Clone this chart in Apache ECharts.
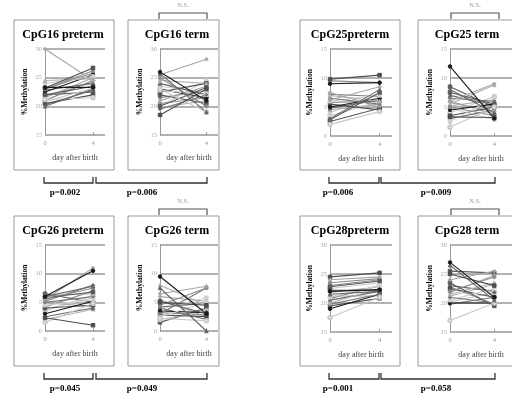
<!DOCTYPE html>
<html>
<head>
<meta charset="utf-8">
<script src="https://cdn.jsdelivr.net/npm/echarts@6/dist/echarts.min.js"></script>
<style>
  html, body { margin: 0; padding: 0; background: #fff; }
  #chart { width: 512px; height: 396px; }
</style>
</head>
<body>
<div id="chart"></div>
<script>
// panel names, left to right, top row then bottom row
const panelTitles = ['CpG16 preterm', 'CpG16 term', 'CpG25preterm', 'CpG25 term',
  'CpG26 preterm', 'CpG26 term', 'CpG28preterm', 'CpG28 term'];
const yRanges = [[15, 30], [15, 30], [0, 15], [0, 15], [0, 15], [0, 15], [15, 30], [15, 30]];
const days = [0, 4];
const yAxisName = '%Methylation';
const xAxisName = 'day after birth';

// each row: [% methylation at day 0, % methylation at day 4]
const cpg16Preterm = [[23.3, 23.3], [23.2, 26.7], [20.0, 23.0], [30.0, 24.5], [21.2, 21.5], [22.0, 23.5], [23.0, 26.2],
  [24.5, 24.8], [21.0, 24.5], [24.0, 25.2], [22.5, 25.5], [20.5, 22.0], [22.8, 24.0], [21.5, 25.0], [20.8, 23.2],
  [22.0, 22.5], [23.0, 25.8], [21.8, 24.2], [20.3, 22.8]];
const cpg16Term = [[26.0, 21.0], [18.5, 23.0], [25.7, 19.0], [25.5, 28.2], [23.0, 19.0], [20.0, 23.3], [25.0, 20.0],
  [24.5, 24.0], [19.5, 22.0], [22.8, 22.0], [23.0, 21.5], [22.5, 24.0], [24.0, 22.0], [21.0, 23.5], [23.5, 22.5],
  [22.0, 20.5], [20.5, 21.5], [19.8, 21.0], [21.5, 22.8], [20.0, 24.5]];
const cpg25Preterm = [[9.0, 9.2], [9.8, 10.5], [3.0, 8.0], [6.2, 8.5], [2.0, 4.2], [2.8, 7.5], [9.5, 9.2],
  [7.0, 6.0], [6.5, 5.5], [6.0, 7.0], [5.0, 6.5], [5.5, 4.5], [4.8, 6.2], [7.5, 5.0], [3.5, 6.0],
  [2.5, 4.8], [5.8, 6.0], [4.5, 5.5], [7.2, 6.8], [4.0, 7.2]];
const cpg25Term = [[12.0, 3.0], [3.3, 3.2], [8.0, 4.0], [6.0, 9.0], [1.5, 5.0], [7.5, 5.5], [5.0, 3.5],
  [5.5, 8.8], [6.5, 6.0], [2.5, 6.5], [4.5, 5.5], [3.5, 5.0], [7.0, 5.2], [5.8, 4.2], [4.0, 6.8],
  [8.5, 5.0], [6.0, 3.8], [5.2, 6.2], [3.0, 4.5], [4.8, 2.8]];
const cpg26Preterm = [[6.0, 10.5], [2.3, 1.0], [6.0, 7.8], [5.5, 11.0], [1.5, 4.8], [5.8, 6.8], [5.5, 7.5],
  [6.2, 6.5], [5.0, 6.0], [4.5, 5.5], [3.0, 5.2], [4.0, 4.5], [2.5, 4.0], [5.0, 4.2], [3.5, 6.2],
  [6.5, 5.0], [4.2, 7.0], [2.0, 3.8], [5.2, 8.0], [3.8, 5.8]];
const cpg26Term = [[9.5, 3.0], [5.0, 4.5], [7.5, 0.0], [6.5, 7.8], [2.2, 1.8], [5.2, 3.0], [4.5, 7.5],
  [8.0, 4.5], [3.0, 7.5], [2.5, 5.0], [3.5, 3.2], [2.8, 2.5], [4.0, 2.0], [6.0, 5.2], [2.0, 3.5],
  [1.5, 4.0], [3.2, 2.8], [5.5, 2.5], [4.2, 4.8], [3.8, 5.8]];
const cpg28Preterm = [[22.0, 22.3], [22.2, 22.2], [21.5, 22.0], [24.0, 24.5], [17.5, 21.0], [22.8, 23.8], [23.0, 24.0],
  [20.0, 22.5], [19.8, 21.5], [21.0, 23.0], [19.0, 21.5], [24.5, 25.2], [20.5, 22.0], [21.8, 22.8], [22.5, 23.5],
  [19.5, 20.8], [23.5, 24.2], [21.2, 21.2], [20.8, 23.0]];
const cpg28Term = [[27.0, 21.0], [25.0, 23.0], [26.5, 20.5], [24.0, 25.5], [17.0, 20.0], [23.5, 19.5], [22.0, 24.5],
  [21.5, 23.5], [21.0, 20.0], [20.5, 22.5], [20.0, 20.0], [22.5, 21.0], [23.0, 22.0], [21.8, 24.8], [20.2, 21.8],
  [25.5, 25.2], [22.8, 19.8], [21.2, 23.2], [19.8, 21.0]];

const panelData = [cpg16Preterm, cpg16Term, cpg25Preterm, cpg25Term, cpg26Preterm, cpg26Term, cpg28Preterm, cpg28Term];

// p-values under the brackets, left to right, top row then bottom row
const pValues = ['p=0.002', 'p=0.006', 'p=0.006', 'p=0.009', 'p=0.045', 'p=0.049', 'p=0.001', 'p=0.058'];
const nsLabel = 'N.S.';

// panel placement (pixels)
const panels = [
  {box: [14, 20, 100, 150], grid: [45, 49, 60, 86], xMax: 5, titleX: 63},
  {box: [128, 20, 91, 150], grid: [160, 49, 58, 86], xMax: 5, titleX: 177},
  {box: [300, 20, 100, 150], grid: [330, 49, 62, 87], xMax: 5, titleX: 350},
  {box: [418, 20, 110, 150], grid: [450, 49, 62, 87], xMax: 5.6, titleX: 467},
];
const rowOffset = 196;

const shades = ['#1a1a1a', '#4d4d4d', '#666666', '#a6a6a6', '#c8c8c8', '#595959', '#8c8c8c', '#b0b0b0', '#7a7a7a', '#d0d0d0'];
const symbols = ['circle', 'rect', 'triangle', 'diamond', 'emptyCircle', 'rect', 'circle', 'triangle', 'diamond', 'rect'];

const chart = echarts.init(document.getElementById('chart'), null, {renderer: 'canvas'});

const grids = [], xAxes = [], yAxes = [], series = [], graphics = [];

for (let p = 0; p < 8; p++) {
  const base = panels[p % 4];
  const dy = p < 4 ? 0 : rowOffset;
  const [gl, gt, gw, gh] = base.grid;
  grids.push({left: gl, top: gt + dy, width: gw, height: gh});

  xAxes.push({
    type: 'value', gridIndex: p, min: 0, max: base.xMax, interval: 4,
    name: xAxisName, nameLocation: 'middle', nameGap: 19,
    nameTextStyle: {fontFamily: 'Liberation Serif', fontSize: 8, color: '#444'},
    axisLine: {show: false},
    axisTick: {show: true, inside: true, length: 3, lineStyle: {color: '#999'}},
    axisLabel: {fontFamily: 'Liberation Serif', fontSize: 6.5, color: '#999', margin: 5,
      showMaxLabel: false, formatter: v => (days.indexOf(v) >= 0 ? String(v) : '')},
    splitLine: {show: false}
  });

  yAxes.push({
    type: 'value', gridIndex: p, min: yRanges[p][0], max: yRanges[p][1], interval: 5,
    name: yAxisName, nameLocation: 'middle', nameRotate: 90, nameGap: 16,
    nameTextStyle: {fontFamily: 'Liberation Serif', fontWeight: 'bold', fontSize: 7.5, color: '#000'},
    axisLine: {show: true, lineStyle: {color: '#999', width: 1}},
    axisTick: {show: false},
    axisLabel: {fontFamily: 'Liberation Serif', fontSize: 6.5, color: '#aaa', margin: 3},
    splitLine: {show: true, lineStyle: {color: '#999', width: 1.5}}
  });

  const rows = panelData[p];
  for (let i = rows.length - 1; i >= 0; i--) {
    const c = shades[i % shades.length];
    series.push({
      type: 'line', xAxisIndex: p, yAxisIndex: p,
      data: [[days[0], rows[i][0]], [days[1], rows[i][1]]],
      symbol: symbols[i % symbols.length], symbolSize: 3.5,
      lineStyle: {color: c, width: 1.1}, itemStyle: {color: c, borderColor: c},
      silent: true, animation: false
    });
  }

  const [bx, by, bw, bh] = base.box;
  graphics.push({
    type: 'rect', shape: {x: bx, y: by + dy, width: bw, height: bh},
    style: {fill: null, stroke: '#999', lineWidth: 1}, z: 0
  });
  graphics.push({
    type: 'text', x: base.titleX, y: 35 + dy,
    style: {text: panelTitles[p], font: 'bold 12px "Liberation Serif"', fill: '#000',
      textAlign: 'center', textVerticalAlign: 'middle'}
  });
}

// brackets under and over the panels
function underBracket(x1, x2, y) {
  return {type: 'polyline', shape: {points: [[x1, y - 6], [x1, y], [x2, y], [x2, y - 6]]},
    style: {stroke: '#333', lineWidth: 1.3, fill: null}};
}
function overBracket(x1, x2, y) {
  return {type: 'polyline', shape: {points: [[x1, y + 6], [x1, y], [x2, y], [x2, y + 6]]},
    style: {stroke: '#555', lineWidth: 1.2, fill: null}};
}
function label(text, x, y, font, color) {
  return {type: 'text', x: x, y: y,
    style: {text: text, font: font, fill: color, textAlign: 'center', textVerticalAlign: 'middle'}};
}

const underSpans = [[44, 93], [96, 207], [329, 379], [381, 495]];
const pX = [65, 142, 338, 436];
const overSpans = [[159, 207], [451, 499]];
for (let r = 0; r < 2; r++) {
  const dy = r * rowOffset;
  for (let k = 0; k < 4; k++) {
    graphics.push(underBracket(underSpans[k][0], underSpans[k][1], 183 + dy));
    graphics.push(label(pValues[r * 4 + k], pX[k], 193 + dy, 'bold 9px "Liberation Serif"', '#000'));
  }
  for (let k = 0; k < 2; k++) {
    graphics.push(overBracket(overSpans[k][0], overSpans[k][1], 13 + dy));
    graphics.push(label(nsLabel, (overSpans[k][0] + overSpans[k][1]) / 2, 5 + dy, '6.5px "Liberation Serif"', '#999'));
  }
}

chart.setOption({
  animation: false,
  grid: grids,
  xAxis: xAxes,
  yAxis: yAxes,
  series: series,
  graphic: graphics
});
</script>
</body>
</html>
